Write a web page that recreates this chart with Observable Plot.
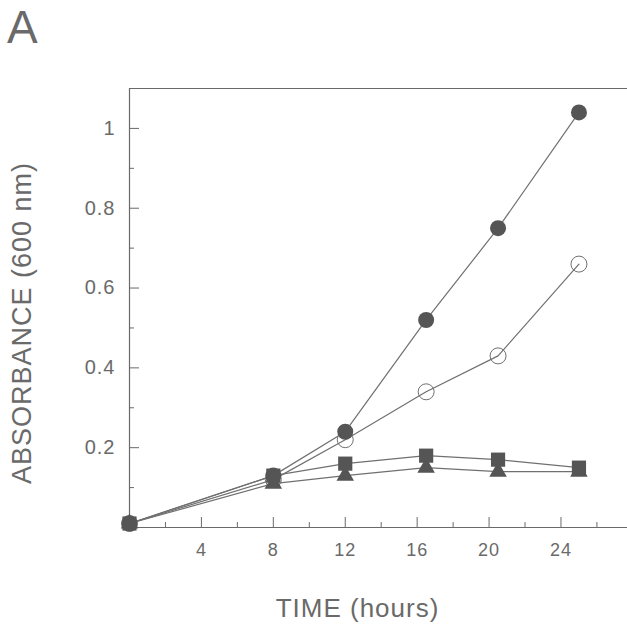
<!DOCTYPE html>
<html>
<head>
<meta charset="utf-8">
<script src="https://cdn.jsdelivr.net/npm/d3@7"></script>
<script src="https://cdn.jsdelivr.net/npm/@observablehq/plot@0.6"></script>
<style>
  html, body { margin: 0; padding: 0; background: #fff; }
  #wrap { position: relative; width: 627px; height: 628px; }
  #panel { position: absolute; left: 7px; top: 4px; font: 46px/1 "Liberation Sans", Arial, sans-serif; color: #6a6a6a; }
</style>
</head>
<body>
<div id="wrap"><div id="panel">A</div></div>
<script>
// Data
const hours = [0, 8, 12, 16.5, 20.5, 25];
const filledCircle = [0.01, 0.13, 0.24, 0.52, 0.75, 1.04];
const openCircle = [0.01, 0.12, 0.22, 0.34, 0.43, 0.66];
const squares = [0.01, 0.13, 0.16, 0.18, 0.17, 0.15];
const triangles = [0.01, 0.11, 0.13, 0.15, 0.14, 0.14];

const xDomain = [0, 27.7];
const yDomain = [0, 1.1];
const xMajorTicks = [4, 8, 12, 16, 20, 24];
const xMinorTicks = [2, 6, 10, 14, 18, 22, 26];
const yMajorTicks = [0.2, 0.4, 0.6, 0.8, 1];
const yMinorTicks = [0.1, 0.3, 0.5, 0.7, 0.9];
const xLabel = "TIME (hours)";
const yLabel = "ABSORBANCE (600 nm)";

const toRows = (vals, series) => hours.map((t, i) => ({time: t, value: vals[i], series}));
const rowsFilled = toRows(filledCircle, "filled");
const rowsOpen = toRows(openCircle, "open");
const rowsSquare = toRows(squares, "square");
const rowsTri = toRows(triangles, "triangle");
const allRows = [...rowsOpen, ...rowsFilled, ...rowsTri, ...rowsSquare];

const axisGray = "#6a6a6a";
const lineGray = "#707070";
const markGray = "#555555";
const font = "'Liberation Sans', Arial, sans-serif";

const chart = Plot.plot({
  width: 627,
  height: 628,
  marginLeft: 129,
  marginRight: 0,
  marginTop: 88,
  marginBottom: 101,
  x: {domain: xDomain, label: null},
  y: {domain: yDomain, label: null},
  style: {fontFamily: font, color: axisGray, background: "white", overflow: "visible"},
  marks: [
    // spines
    Plot.ruleX([xDomain[0]], {stroke: axisGray, strokeWidth: 1.2}),
    Plot.ruleY([yDomain[0]], {stroke: axisGray, strokeWidth: 1.2}),
    Plot.ruleY([yDomain[1]], {stroke: axisGray, strokeWidth: 1.2}),
    // inward ticks
    Plot.axisY({ticks: yMajorTicks, tickSize: -10, fill: "none", stroke: axisGray, label: null}),
    Plot.axisY({ticks: yMinorTicks, tickSize: -5, fill: "none", stroke: axisGray, label: null}),
    Plot.axisX({ticks: xMajorTicks, tickSize: -10, fill: "none", stroke: axisGray, label: null}),
    Plot.axisX({ticks: xMinorTicks, tickSize: -5, fill: "none", stroke: axisGray, label: null}),
    // tick labels
    Plot.axisY({ticks: yMajorTicks, tickSize: 0, tickPadding: 14, fontSize: 20, fill: axisGray, label: null,
      tickFormat: d => (d === 1 ? "1" : d.toFixed(1))}),
    Plot.axisX({ticks: xMajorTicks, tickSize: 0, tickPadding: 16, fontSize: 18, fill: axisGray, label: null,
      tickFormat: d => String(d)}),
    // axis titles
    Plot.text([xLabel], {frameAnchor: "bottom", text: d => d, dx: -21, dy: 89, lineAnchor: "bottom",
      fontSize: 26, fill: axisGray}),
    Plot.text([yLabel], {frameAnchor: "left", text: d => d, dx: -107, dy: 15, rotate: -90,
      textAnchor: "middle", lineAnchor: "middle", fontSize: 27, fill: axisGray}),
    // lines
    Plot.line(allRows, {x: "time", y: "value", z: "series", stroke: lineGray, strokeWidth: 1.2}),
    // markers
    Plot.dot(rowsOpen, {x: "time", y: "value", r: 8, stroke: lineGray, strokeWidth: 1, fill: "none"}),
    Plot.dot(rowsFilled, {x: "time", y: "value", r: 8, fill: markGray, stroke: "none"}),
    Plot.dot(rowsTri, {x: "time", y: "value", r: 6.5, symbol: "triangle", fill: markGray, stroke: "none"}),
    Plot.dot(rowsSquare, {x: "time", y: "value", r: 8, symbol: "square", fill: markGray, stroke: "none"})
  ]
});
chart.style.letterSpacing = "1px";
document.getElementById("wrap").prepend(chart);
</script>
</body>
</html>
